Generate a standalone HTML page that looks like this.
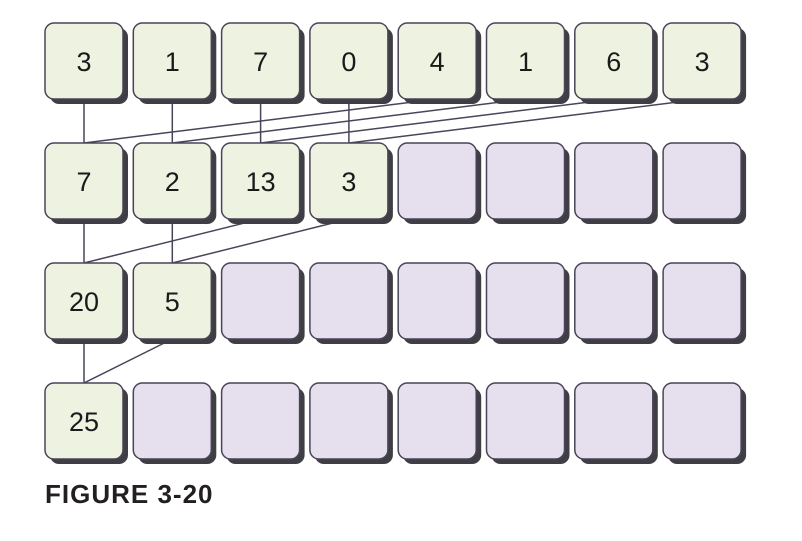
<!DOCTYPE html>
<html><head><style>
body{margin:0;width:802px;height:536px;background:#fff;overflow:hidden;font-family:"Liberation Sans",sans-serif}
</style></head><body>
<svg width="802" height="536" xmlns="http://www.w3.org/2000/svg">
<g id="lines" stroke="#4a4458" stroke-width="1.5" fill="none"></g>
<g id="boxes"></g>
<text x="45" y="503" font-family="Liberation Sans, sans-serif" font-weight="bold" font-size="26" letter-spacing="1" fill="#231f20">FIGURE 3-20</text>
</svg>
<script>
const rows=[["3","1","7","0","4","1","6","3"],["7","2","13","3"],["20","5"],["25"]];
const X0=45,P=88.3,W=78,H=76,Y=[23,143,263,383];
const ns="http://www.w3.org/2000/svg";
const B=document.getElementById('boxes'),L=document.getElementById('lines');
function el(t,a,p){const e=document.createElementNS(ns,t);for(const k in a)e.setAttribute(k,a[k]);p.appendChild(e);return e;}
const cx=i=>X0+i*P+W/2;
for(let r=0;r<3;r++){const n=rows[r].length,h=n/2;for(let i=0;i<n;i++){el('line',{x1:cx(i),y1:Y[r]+H,x2:cx(i%h),y2:Y[r+1]},L);}}
for(let r=0;r<4;r++)for(let i=0;i<8;i++){
 const x=X0+i*P,y=Y[r],v=rows[r][i];
 el('rect',{x:x+5,y:y+5,width:W,height:H,rx:9,fill:'#3f3e44'},B);
 el('rect',{x:x,y:y,width:W,height:H,rx:9,fill:v!==undefined?'#eef2e1':'#e6dfee',stroke:'#4a4458','stroke-width':1.5},B);
 if(v!==undefined){const t=el('text',{x:x+W/2,y:y+H/2+10,'text-anchor':'middle','font-size':27,fill:'#1a1a1a','font-family':'Liberation Sans, sans-serif'},B);t.textContent=v;}
}
</script>
</body></html>
